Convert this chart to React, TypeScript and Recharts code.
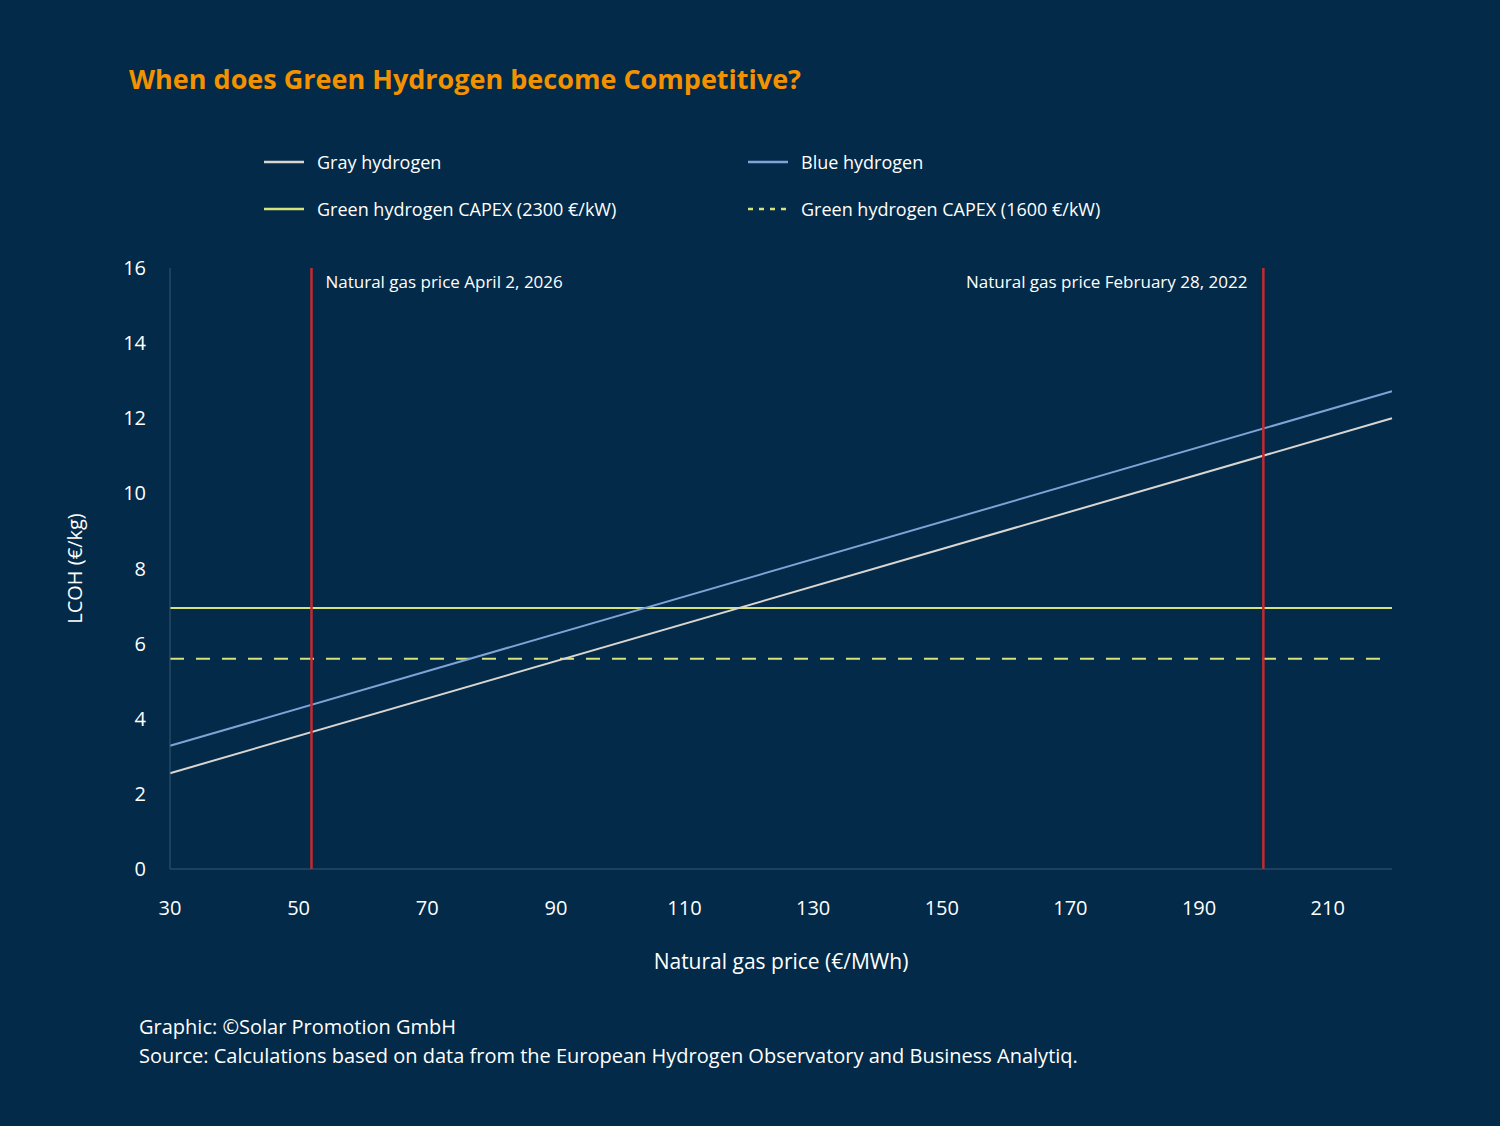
import React from "react";
import { LineChart, Line, XAxis, YAxis, ReferenceLine } from "recharts";

const gasPrices = [30, 220];
const grayH2 = [2.55, 12.0];
const blueH2 = [3.28, 12.72];
const green2300 = [6.95, 6.95];
const green1600 = [5.6, 5.6];
const xTicks = [30, 50, 70, 90, 110, 130, 150, 170, 190, 210];
const yTicks = [0, 2, 4, 6, 8, 10, 12, 14, 16];
const refLines = [
  { x: 52, label: "Natural gas price April 2, 2026", side: "right" },
  { x: 200, label: "Natural gas price February 28, 2022", side: "left" },
];

const data = gasPrices.map((g, i) => ({
  gas: g,
  gray: grayH2[i],
  blue: blueH2[i],
  g2300: green2300[i],
  g1600: green1600[i],
}));

const BG = "#032a48";
const FONT = "'Open Sans', Roboto, sans-serif";
const TXT = "#ffffff";
const AXIS = "#3d5670";

const legendItems = [
  { label: "Gray hydrogen", color: "#d9d6d2", dash: false, x: 264, y: 162 },
  { label: "Blue hydrogen", color: "#7fa3d6", dash: false, x: 748, y: 162 },
  { label: "Green hydrogen CAPEX (2300 €/kW)", color: "#d6e27a", dash: false, x: 264, y: 209 },
  { label: "Green hydrogen CAPEX (1600 €/kW)", color: "#d6e27a", dash: true, x: 748, y: 209 },
];

const RefLabel = (side: string, text: string) => (props: any) => {
  const vb = props.viewBox || {};
  const x = side === "right" ? vb.x + 14 : vb.x - 16;
  return (
    <text x={x} y={vb.y + 20} fill={TXT} fontSize={17} fontFamily={FONT} textAnchor={side === "right" ? "start" : "end"}>
      {text}
    </text>
  );
};

export default function App() {
  return (
    <div style={{ position: "absolute", left: 0, top: 0, width: 1500, height: 1126, background: BG, fontFamily: FONT, overflow: "hidden" }}>
      <div style={{ position: "absolute", left: 129, top: 60, color: "#f39200", fontSize: 27, fontWeight: 700 }}>
        When does Green Hydrogen become Competitive?
      </div>
      {legendItems.map((l) => (
        <div key={l.label} style={{ position: "absolute", left: l.x, top: l.y - 13, height: 26, display: "flex", alignItems: "center", color: TXT, fontSize: 18 }}>
          <svg width={40} height={4} style={{ marginRight: 13 }}>
            <line x1={0} y1={2} x2={40} y2={2} stroke={l.color} strokeWidth={2.5} strokeDasharray={l.dash ? "5 6" : undefined} />
          </svg>
          {l.label}
        </div>
      ))}
      <div style={{ position: "absolute", left: 0, top: 0 }}>
        <LineChart width={1500} height={1126} data={data} margin={{ top: 268, left: 110, right: 108, bottom: 227 }}>
          <XAxis
            dataKey="gas"
            type="number"
            domain={[30, 220]}
            ticks={xTicks}
            height={30}
            axisLine={{ stroke: AXIS }}
            tickLine={false}
            tickMargin={26}
            tick={{ fill: TXT, fontSize: 20, fontFamily: FONT }}
            label={{ value: "Natural gas price (€/MWh)", position: "insideBottom", offset: -70, fill: TXT, fontSize: 21, fontFamily: FONT }}
          />
          <YAxis
            type="number"
            domain={[0, 16]}
            ticks={yTicks}
            width={60}
            axisLine={{ stroke: AXIS }}
            tickLine={false}
            tickMargin={18}
            tick={{ fill: TXT, fontSize: 20, fontFamily: FONT }}
            label={{ value: "LCOH (€/kg)", angle: -90, position: "insideLeft", offset: -35, fill: TXT, fontSize: 20, fontFamily: FONT, style: { textAnchor: "middle" } }}
          />
          <Line dataKey="g2300" stroke="#d6e27a" strokeWidth={2} dot={false} isAnimationActive={false} />
          <Line dataKey="g1600" stroke="#d6e27a" strokeWidth={2} strokeDasharray="14 12" dot={false} isAnimationActive={false} />
          <Line dataKey="gray" stroke="#d9d6d2" strokeWidth={2} dot={false} isAnimationActive={false} />
          <Line dataKey="blue" stroke="#7fa3d6" strokeWidth={2} dot={false} isAnimationActive={false} />
          {refLines.map((r) => (
            <ReferenceLine key={r.x} x={r.x} stroke="#c42a2e" strokeWidth={2.5} label={RefLabel(r.side, r.label)} />
          ))}
        </LineChart>
      </div>
      <div style={{ position: "absolute", left: 139, top: 1012, color: TXT, fontSize: 20, lineHeight: "29px" }}>
        <div>Graphic: ©Solar Promotion GmbH</div>
        <div>Source: Calculations based on data from the European Hydrogen Observatory and Business Analytiq.</div>
      </div>
    </div>
  );
}
